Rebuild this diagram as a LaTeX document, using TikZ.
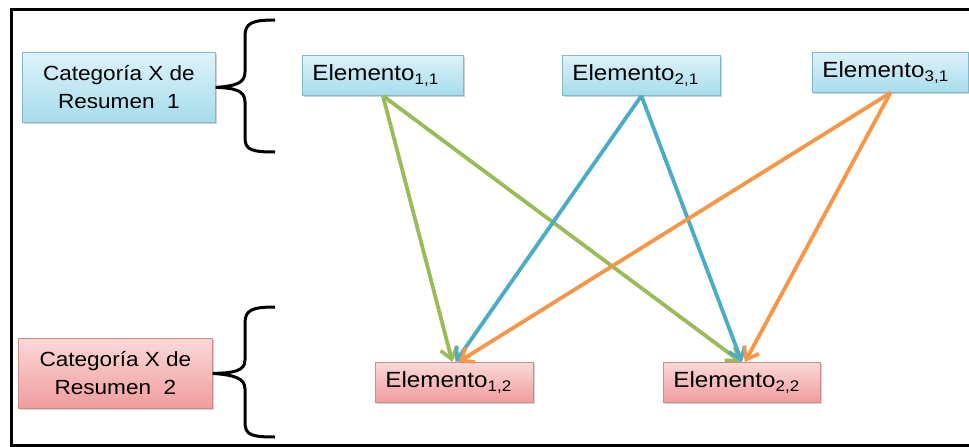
\documentclass[tikz,border=0pt]{standalone}
\usepackage{fontspec}
\setmainfont[FakeStretch=1.1]{Liberation Sans}
\usetikzlibrary{arrows.meta,shadows}
\definecolor{agreen}{HTML}{9BBB59}
\definecolor{ablue}{HTML}{4BACC6}
\definecolor{aorange}{HTML}{F79646}
\definecolor{btop}{HTML}{DDF3FA}
\definecolor{bbot}{HTML}{A6DCEC}
\definecolor{bdraw}{HTML}{86B8CC}
\definecolor{rtop}{HTML}{FBD9D9}
\definecolor{rbot}{HTML}{F09C9C}
\definecolor{rdraw}{HTML}{CF8A8A}
\tikzset{
  box/.style={draw, line width=0.8pt, anchor=north west, inner sep=0pt,
    drop shadow={opacity=0.35, shadow xshift=1.5pt, shadow yshift=-2pt}},
  bluebox/.style={box, draw=bdraw, top color=btop, bottom color=bbot},
  redbox/.style={box, draw=rdraw, top color=rtop, bottom color=rbot},
  catbox/.style={align=center, font=\fontsize{20.5}{28}\selectfont},
  elembox/.style={text width=#1, align=left, inner xsep=10pt, minimum height=40pt,
    font=\fontsize{22}{26}\selectfont},
  arr/.style={line width=3.8pt, -{Straight Barb[length=11pt,width=17pt,line width=3.6pt]}},
  brace/.style={line width=3pt, black}
}
\begin{document}
\begin{tikzpicture}[x=1pt,y=-1pt]
\useasboundingbox (0,0) rectangle (969,447);
\fill[white] (0,0) rectangle (969,447);
\draw[line width=3.5pt] (985,9.5) -- (11.5,9.5) -- (11.5,445.5) -- (985,445.5);

\node[bluebox, catbox, minimum width=193pt, minimum height=70pt] (cat1) at (22,52) {Categoría X de\\Resumen\ \ 1};
\node[redbox, catbox, minimum width=194pt, minimum height=70pt] (cat2) at (18,338) {Categoría X de\\Resumen\ \ 2};

\node[bluebox, elembox=141pt] (e11) at (302,55) {Elemento\textsubscript{1,1}};
\node[bluebox, elembox=138pt] (e21) at (562,55) {Elemento\textsubscript{2,1}};
\node[bluebox, elembox=136pt] (e31) at (812,52) {Elemento\textsubscript{3,1}};
\node[redbox, elembox=138pt] (e12) at (375,362) {Elemento\textsubscript{1,2}};
\node[redbox, elembox=137pt] (e22) at (663,362) {Elemento\textsubscript{2,2}};

% braces
\draw[brace] (275,20) .. controls (252,20) and (245,23) .. (245,36) -- (245,72)
  .. controls (245,83) and (236,86) .. (cat1.east)
  .. controls (236,88) and (245,91) .. (245,102) -- (245,138)
  .. controls (245,150) and (252,152) .. (275,152);
\draw[brace] (275,307) .. controls (252,307) and (245,310) .. (245,323) -- (245,360)
  .. controls (245,371) and (234,373) .. (cat2.east)
  .. controls (234,375) and (245,378) .. (245,389) -- (245,423)
  .. controls (245,435) and (252,437) .. (275,437);

% arrows
\draw[arr, agreen] (e11.south) -- ([xshift=-2pt]e12.north);
\draw[arr, agreen] (e11.south) -- ([xshift=-1pt]e22.north);
\draw[arr, ablue] (e21.south) -- ([xshift=1pt]e12.north);
\draw[arr, ablue] (e21.south) -- ([xshift=0pt]e22.north);
\draw[arr, aorange] (e31.south) -- ([xshift=4pt]e12.north);
\draw[arr, aorange] (e31.south) -- ([xshift=3pt]e22.north);
\end{tikzpicture}
\end{document}
